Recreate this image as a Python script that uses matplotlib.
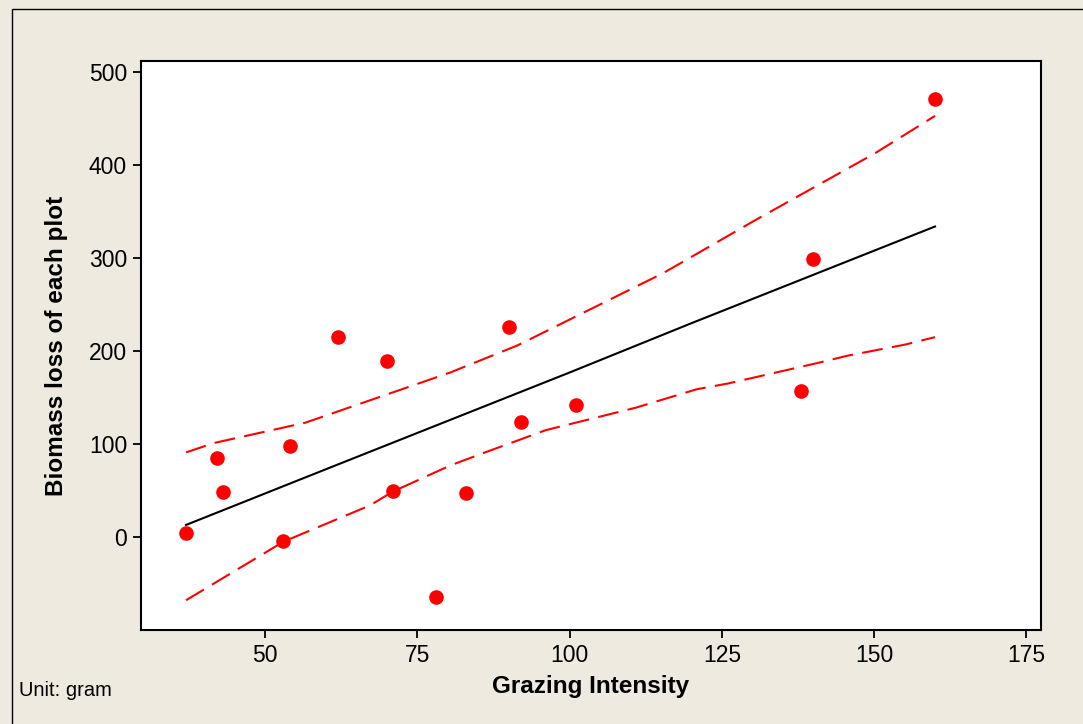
# Fitted line plot: biomass loss vs grazing intensity, with 95% CI bands
import matplotlib
matplotlib.use("Agg")
import matplotlib.pyplot as plt
from matplotlib.patches import Rectangle

# observed plots
grazing = [37, 42, 43, 53, 54, 62, 70, 71, 78, 83, 90, 92, 101, 138, 140, 160]
biomass = [4, 85, 48, -4, 98, 215, 189, 49, -64, 47, 226, 124, 142, 157, 299, 471]

# regression line
fit_x = [37, 60, 80, 100, 120, 140, 160]
fit_y = [13, 73, 125, 177, 230, 282, 334]

# confidence band, upper
upper_x = [37, 41.5, 56.6, 80.4, 91.4, 115.4, 130.8, 150.2, 160]
upper_y = [91, 101, 123, 177, 206, 284, 342, 413, 453]

# confidence band, lower
lower_x = [37, 53, 67.2, 71, 80.4, 86.1, 96.1, 110.8, 120.9, 125.9, 140.6, 145.6, 155.1, 160]
lower_y = [-68, -5, 34, 49, 77, 91, 115, 139, 159, 165, 187, 195, 207, 215]

x_ticks = [50, 75, 100, 125, 150, 175]
y_ticks = [0, 100, 200, 300, 400, 500]

BG = "#EEEAE0"
W, H = 1083, 724

plt.rcParams["font.family"] = ["Liberation Sans", "DejaVu Sans"]

fig = plt.figure(figsize=(W / 100, H / 100), dpi=100, facecolor=BG)
ax = fig.add_axes([141 / W, 1 - 630 / H, (1041 - 141) / W, (630 - 61) / H])
ax.set_facecolor("white")

ax.plot(fit_x, fit_y, color="black", lw=1.5, zorder=2)
ax.plot(upper_x, upper_y, color="red", lw=1.5, dashes=(10, 4.5), zorder=2)
ax.plot(lower_x, lower_y, color="red", lw=1.5, dashes=(10, 4.5), zorder=2)
ax.plot(grazing, biomass, "o", color="red", ms=9.5, mec="red", zorder=3)

ax.set_xlim(29.6, 177.4)
ax.set_ylim(-100, 512)
ax.set_xticks(x_ticks)
ax.set_yticks(y_ticks)
ax.tick_params(direction="out", length=6, width=1.3, labelsize=16.5, pad=4, color="black")
for sp in ax.spines.values():
    sp.set_linewidth(1.5)

fig.text(57 / W, 1 - 346 / H, "Biomass loss of each plot", rotation=90,
         ha="center", va="center", fontsize=17.5, fontweight="bold")
fig.text(591 / W, 1 - 687 / H, "Grazing Intensity",
         ha="center", va="center", fontsize=17.5, fontweight="bold")
fig.text(19 / W, 1 - 690 / H, "Unit: gram", ha="left", va="center", fontsize=14.5)

# outer frame (open at right / bottom, as in the original export)
fig.patches.append(Rectangle((11.5 / W, -0.1), 1.2, 1.1 - 9.5 / H,
                             transform=fig.transFigure, fill=False,
                             edgecolor="black", lw=1.0))

fig.savefig("out.png", dpi=100, facecolor=BG)
